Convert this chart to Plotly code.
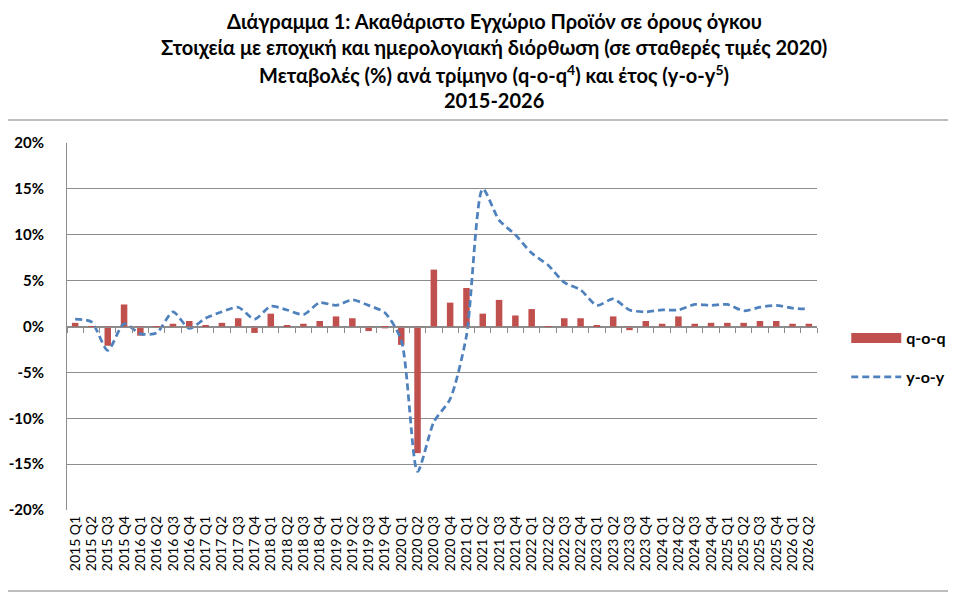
import plotly.graph_objects as go

# Τρίμηνα 2015 Q1 - 2026 Q2
quarters = [f"{y} Q{q}" for y in range(2015, 2027) for q in range(1, 5)][:46]

# Μεταβολή έναντι προηγούμενου τριμήνου (%)
qoq = [0.4, -0.1, -2.1, 2.4,
       -1.0, -0.1, 0.3, 0.6,
       0.1, 0.4, 0.9, -0.7,
       1.4, 0.1, 0.3, 0.6,
       1.1, 0.9, -0.5, -0.2,
       -2.0, -13.8, 6.2, 2.6,
       4.2, 1.4, 2.9, 1.2,
       1.9, 0.05, 0.9, 0.9,
       0.1, 1.1, -0.4, 0.6,
       0.3, 1.1, 0.3, 0.4,
       0.4, 0.4, 0.6, 0.6,
       0.3, 0.3]

# Μεταβολή έναντι αντίστοιχου τριμήνου προηγούμενου έτους (%)
yoy = [0.8, 0.5, -2.6, 0.3,
       -0.8, -0.7, 1.6, -0.2,
       0.9, 1.6, 2.1, 0.8,
       2.2, 1.8, 1.3, 2.6,
       2.3, 2.9, 2.3, 1.5,
       -1.5, -15.8, -10.4, -7.9,
       -1.0, 15.0, 11.6, 10.0,
       8.0, 6.7, 4.8, 4.0,
       2.3, 3.0, 1.8, 1.6,
       1.8, 1.8, 2.4, 2.3,
       2.4, 1.7, 2.1, 2.3,
       2.0, 1.9]

y_ticks = [-20, -15, -10, -5, 0, 5, 10, 15, 20]
y_labels = ["-20%", "-15%", "-10%", "-5%", "0%", "5%", "10%", "15%", "20%"]

title_lines = [
    "Διάγραμμα 1: Ακαθάριστο Εγχώριο Προϊόν σε όρους όγκου",
    "Στοιχεία με εποχική και ημερολογιακή διόρθωση (σε σταθερές τιμές 2020)",
    "Μεταβολές (%) ανά τρίμηνο (q-o-q<sup>4</sup>) και έτος (y-o-y<sup>5</sup>)",
    "2015-2026",
]

RED = "#C0504D"
BLUE = "#4F81BD"
GRID = "#8c8c8c"
FONT = "Lato"
# η σελίδα έχει περιθώριο 8px, οπότε το σχήμα μικραίνει αντίστοιχα
PAD = 8

fig = go.Figure()

fig.add_trace(go.Bar(
    x=quarters, y=qoq, name="q-o-q",
    marker=dict(color=RED, line=dict(width=0)),
    showlegend=False, xaxis="x", yaxis="y",
))

# μόνο για το υπόμνημα: φαρδύ κόκκινο ορθογώνιο όπως στο Excel
fig.add_trace(go.Scatter(
    x=[None], y=[None], name="q-o-q", mode="lines",
    line=dict(color=RED, width=11),
    legendgroup="a", xaxis="x", yaxis="y",
))

fig.add_trace(go.Scatter(
    x=quarters, y=yoy, name="y-o-y", mode="lines",
    line=dict(color=BLUE, width=2.75, dash="7px,4px",
              shape="spline", smoothing=0.7),
    legendgroup="b", xaxis="x2", yaxis="y",
))

fig.update_layout(
    width=956 - PAD, height=598 - PAD,
    margin=dict(l=67 - PAD, r=139, t=143 - PAD, b=88, autoexpand=False),
    paper_bgcolor="white", plot_bgcolor="white",
    font=dict(family=FONT, color="black"),
    bargap=0.6,
    showlegend=True,
    legend=dict(x=1.039, y=0.415, xanchor="left", yanchor="middle",
                font=dict(family=FONT, size=16, color="black", weight="bold"),
                traceorder="grouped", tracegroupgap=15, itemwidth=50,
                bgcolor="rgba(0,0,0,0)"),
    xaxis=dict(
        type="category", categoryorder="array", categoryarray=quarters,
        range=[-0.5, 45.5], showgrid=False, showline=False, ticks="",
        tickmode="linear", tick0=0, dtick=1,
        automargin=False, tickangle=-90, ticklabelstandoff=2,
        tickfont=dict(family=FONT, size=14, color="black"),
    ),
    xaxis2=dict(
        type="category", categoryorder="array", categoryarray=quarters,
        range=[-0.5, 45.5], overlaying="x", anchor="free", position=0.5,
        showgrid=False, showline=True, linecolor=GRID, linewidth=1,
        ticks="outside", tickson="boundaries", ticklen=5, tickcolor=GRID,
        showticklabels=False, automargin=False,
    ),
    yaxis=dict(
        range=[-20, 20], tickvals=y_ticks, ticktext=y_labels,
        showgrid=True, gridcolor=GRID, gridwidth=1, zeroline=False,
        showline=True, linecolor=GRID, linewidth=1, ticks="",
        ticklabelstandoff=19, automargin=False,
        tickfont=dict(family=FONT, size=15, color="black", weight="bold"),
    ),
)

# Τίτλος σε τέσσερις γραμμές (θέσεις σε pixel παραθύρου)
title_y_px = [21, 47, 74, 100]
for text, ypx in zip(title_lines, title_y_px):
    fig.add_annotation(
        text=text, xref="paper", yref="paper",
        x=(494 - 67) / 750, y=(510 - ypx) / 367,
        xanchor="center", yanchor="middle", showarrow=False,
        font=dict(family=FONT, size=20, color="black", weight="bold"),
    )

# Πλαίσιο γραφήματος (πάνω και κάτω γραμμή)
for ypx in [120, 591]:
    fig.add_shape(type="line", xref="paper", yref="paper",
                  x0=-59 / 750, x1=889 / 750,
                  y0=(510 - ypx) / 367, y1=(510 - ypx) / 367,
                  line=dict(color="#bdbdbd", width=2))

fig.write_html("out.html")
